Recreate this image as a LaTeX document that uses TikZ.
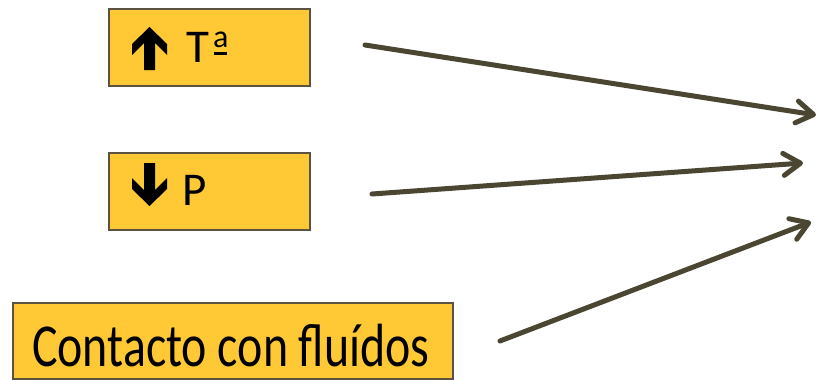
\documentclass[tikz,border=0pt]{standalone}
\usepackage{fontspec}
\usepackage{graphicx}
\setmainfont{Carlito}
\usetikzlibrary{arrows.meta}
\definecolor{boxfill}{HTML}{FEC935}
\definecolor{boxline}{HTML}{5A5343}
\definecolor{arrowcol}{HTML}{4A4632}
\begin{document}
\begin{tikzpicture}[x=1pt,y=-1pt,
  factor/.style={draw=boxline, line width=1.5pt, fill=boxfill, inner sep=0pt, anchor=north west},
  small/.style={font=\fontsize{47}{47}\selectfont, anchor=base west, inner sep=0pt},
  ordinal/.style={font=\fontsize{32}{32}\selectfont, anchor=base west, inner sep=0pt},
  large/.style={font=\fontsize{61}{61}\selectfont, anchor=base west, inner sep=0pt},
  glyph/.style={fill=black},
  cause/.style={draw=arrowcol, line width=5pt, line cap=round,
    -{Straight Barb[length=17pt,width=22pt,round]}}]
\useasboundingbox (0,0) rectangle (819,380);

% factor boxes
\node[factor, minimum width=201pt, minimum height=77pt] (temp) at (108,8) {};
\node[factor, minimum width=201pt, minimum height=77pt] (pres) at (108,152) {};
\node[factor, minimum width=440pt, minimum height=76pt] (fluid) at (12,302) {};

% bold up / down arrows
\fill[glyph] (149.5,27) -- (167,44) -- (167,55) -- (155,43) -- (155,70) -- (144,70)
  -- (144,43) -- (132,55) -- (132,44) -- cycle;
\fill[glyph] (149.5,206) -- (167,189) -- (167,178) -- (155,190) -- (155,163) -- (144,163)
  -- (144,190) -- (132,178) -- (132,189) -- cycle;

% labels
\node[small] (tlab) at (186,62) {T};
\node[ordinal] (olab) at (213,47) {a};
\fill[glyph] (213.5,52) rectangle (227,54.5);
\node[small] (plab) at (182,205) {P};
\node[large] (flab) at (32,366) {\scalebox{0.785}[1]{Contacto con fluídos}};

% arrows toward the common target
\coordinate (s1) at (365,45);
\coordinate (e1) at (816,115);
\coordinate (s2) at (372,194);
\coordinate (e2) at (803,163);
\coordinate (s3) at (500,341);
\coordinate (e3) at (811,222);
\draw[cause] (s1) -- (e1);
\draw[cause] (s2) -- (e2);
\draw[cause] (s3) -- (e3);
\end{tikzpicture}
\end{document}
